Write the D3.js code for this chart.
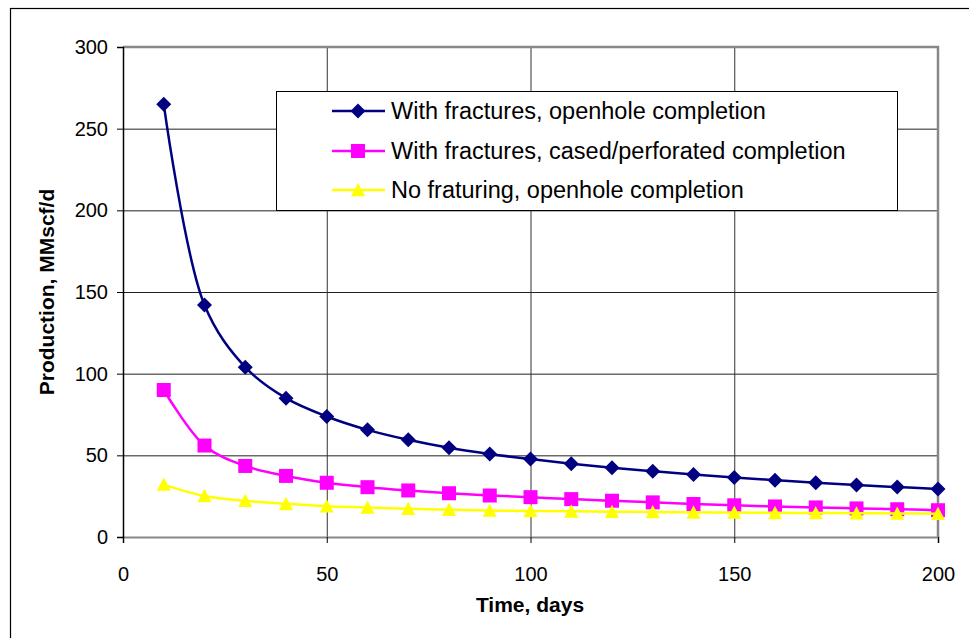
<!DOCTYPE html>
<html>
<head>
<meta charset="utf-8">
<script src="https://cdn.jsdelivr.net/npm/d3@7/dist/d3.min.js"></script>
<style>
  html, body { margin: 0; padding: 0; background: #fff; }
  svg { display: block; font-family: "Liberation Sans", Arial, sans-serif; }
</style>
</head>
<body>
<svg id="chart" width="969" height="638"></svg>
<script>
// Production decline over time for three completion scenarios
const days = [10, 20, 30, 40, 50, 60, 70, 80, 90, 100, 110, 120, 130, 140, 150, 160, 170, 180, 190, 200];
const openholeFrac = [265, 142, 104, 85, 73.8, 65.6, 59.5, 54.6, 50.8, 47.7, 44.9, 42.4, 40.3, 38.3, 36.5, 34.8, 33.2, 31.8, 30.6, 29.4];
const casedFrac = [90, 56, 43.5, 37.4, 33.2, 30.5, 28.5, 26.8, 25.4, 24.4, 23.2, 22.2, 21.2, 20.2, 19.4, 18.7, 18.1, 17.5, 17.0, 16.4];
const openholeNoFrac = [32.1, 25.1, 22.2, 20.3, 18.8, 18.1, 17.3, 16.7, 16.3, 15.9, 15.7, 15.5, 15.3, 15.1, 15.0, 14.8, 14.7, 14.6, 14.4, 14.3];
const seriesNames = [
  "With fractures, openhole completion",
  "With fractures, cased/perforated completion",
  "No fraturing, openhole completion"
];
const seriesColors = ["#000080", "#FF00FF", "#FFFF00"];
const seriesSymbols = ["diamond", "square", "triangle"];
const xTicks = [0, 50, 100, 150, 200];
const yTicks = [0, 50, 100, 150, 200, 250, 300];

const series = [openholeFrac, casedFrac, openholeNoFrac].map((vals, i) => ({
  name: seriesNames[i],
  color: seriesColors[i],
  symbol: seriesSymbols[i],
  points: days.map((d, j) => ({ x: d, y: vals[j] }))
}));

const svg = d3.select("#chart");
const plot = { left: 123, top: 47, right: 938, bottom: 537 };

const x = d3.scaleLinear().domain([0, 200]).range([plot.left, plot.right]);
const y = d3.scaleLinear().domain([0, 300]).range([plot.bottom, plot.top]);

// outer chart frame
svg.append("rect")
  .attr("x", 10.5).attr("y", 8.5)
  .attr("width", 980).attr("height", 660)
  .attr("fill", "#fff").attr("stroke", "#000").attr("stroke-width", 1.2);

// gridlines
const grid = svg.append("g");
grid.selectAll("line.h").data(yTicks).join("line")
  .attr("x1", plot.left).attr("x2", plot.right)
  .attr("y1", d => y(d) + 0.5).attr("y2", d => y(d) + 0.5)
  .attr("stroke", "#222").attr("stroke-width", 1);
grid.selectAll("line.v").data(xTicks).join("line")
  .attr("y1", plot.top).attr("y2", plot.bottom)
  .attr("x1", d => x(d) + 0.5).attr("x2", d => x(d) + 0.5)
  .attr("stroke", "#333").attr("stroke-width", 1);

// plot area border (top and right in grey)
svg.append("path")
  .attr("d", `M${plot.left},${plot.top}H${plot.right}V${plot.bottom}`)
  .attr("fill", "none").attr("stroke", "#888").attr("stroke-width", 2.5);

// axes
const xAxis = d3.axisBottom(x).tickValues(xTicks).tickSize(6).tickPadding(24);
const yAxis = d3.axisLeft(y).tickValues(yTicks).tickSize(6).tickPadding(9);

const gx = svg.append("g").attr("transform", `translate(0,${plot.bottom})`).call(xAxis);
const gy = svg.append("g").attr("transform", `translate(${plot.left},0)`).call(yAxis);
[gx, gy].forEach(g => {
  g.selectAll("text").attr("font-size", 20).attr("fill", "#000")
    .attr("font-family", "Liberation Sans, Arial, sans-serif");
  g.selectAll("line").attr("stroke", "#000");
});
gx.selectAll(".tick line").attr("y2", 6);
gx.select(".domain").attr("stroke", "#888").attr("stroke-width", 2);
gy.select(".domain").attr("stroke", "#000").attr("stroke-width", 1.5);

// axis titles
svg.append("text")
  .attr("x", (plot.left + plot.right) / 2 - 0.5).attr("y", 612)
  .attr("text-anchor", "middle").attr("font-size", 21).attr("font-weight", "bold")
  .text("Time, days");
svg.append("text")
  .attr("transform", `translate(54,${(plot.top + plot.bottom) / 2}) rotate(-90)`)
  .attr("text-anchor", "middle").attr("font-size", 21).attr("font-weight", "bold")
  .text("Production, MMscf/d");

// marker shapes
function symbolPath(type, size) {
  const s = size / 2;
  if (type === "diamond") return `M0,${-s}L${s},0L0,${s}L${-s},0Z`;
  if (type === "square") return `M${-s},${-s}H${s}V${s}H${-s}Z`;
  return `M0,${-s}L${s},${s * 0.9}H${-s}Z`;
}

// series lines and markers
const line = d3.line().x(d => x(d.x)).y(d => y(d.y)).curve(d3.curveCatmullRom.alpha(0.5));
series.forEach(s => {
  const g = svg.append("g");
  g.append("path").datum(s.points)
    .attr("d", line).attr("fill", "none")
    .attr("stroke", s.color).attr("stroke-width", 2.5);
  g.selectAll("path.m").data(s.points).join("path")
    .attr("class", "m")
    .attr("transform", d => `translate(${x(d.x)},${y(d.y)})`)
    .attr("d", symbolPath(s.symbol, s.symbol === "diamond" ? 15 : 14))
    .attr("fill", s.color);
});

// legend
const legend = svg.append("g");
legend.append("rect")
  .attr("x", 276.5).attr("y", 91.5).attr("width", 621).attr("height", 119)
  .attr("fill", "#fff").attr("stroke", "#000").attr("stroke-width", 1);
const legY = [111, 151, 190];
series.forEach((s, i) => {
  legend.append("line")
    .attr("x1", 332).attr("x2", 385).attr("y1", legY[i]).attr("y2", legY[i])
    .attr("stroke", s.color).attr("stroke-width", 2.5);
  legend.append("path")
    .attr("transform", `translate(358,${legY[i]})`)
    .attr("d", symbolPath(s.symbol, s.symbol === "diamond" ? 15 : 14))
    .attr("fill", s.color);
  legend.append("text")
    .attr("x", 391).attr("y", legY[i] + 8)
    .attr("font-size", 23.5)
    .text(s.name);
});
</script>
</body>
</html>
